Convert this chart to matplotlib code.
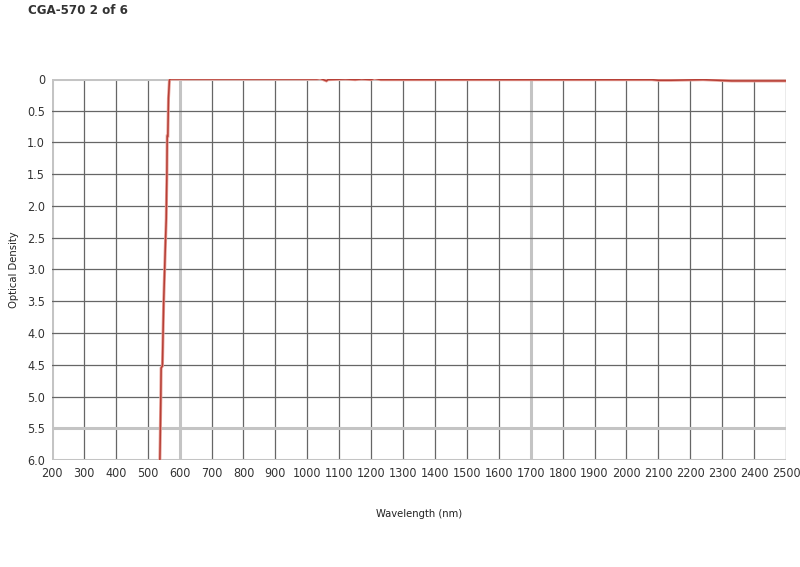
import numpy as np
import matplotlib as mpl
mpl.use('Agg')
import matplotlib.pyplot as plt

mpl.rcParams.update({'font.family': ['DejaVu Sans'],
                     'font.stretch': 'condensed',
                     'font.size': 8})

# Spectrum (wavelength in nm, optical density)
wavelength = [538, 539, 541, 542, 546, 548, 550, 553, 556, 558, 559, 560,
              561, 563, 565, 568, 570, 1030, 1040, 1045, 1060, 1065, 1120,
              1150, 1170, 1200, 1210, 1230, 2080, 2100, 2140, 2240, 2330, 2500]
optical_density = [6.0, 5.7, 5.0, 4.55, 4.52, 4.0, 3.5, 3.0, 2.5, 2.2, 1.8, 1.5,
                   0.9, 0.9, 0.3, 0.02, 0.0, 0.0, -0.01, 0.0, 0.03, 0.01, 0.0,
                   0.01, 0.0, 0.01, -0.01, 0.01, 0.01, 0.02, 0.02, 0.01, 0.03, 0.03]

xticks = list(range(200, 2600, 100))
yticks = [0, 0.5, 1.0, 1.5, 2.0, 2.5, 3.0, 3.5, 4.0, 4.5, 5.0, 5.5, 6.0]
ylabels = ['0', '0.5', '1.0', '1.5', '2.0', '2.5', '3.0', '3.5', '4.0', '4.5',
           '5.0', '5.5', '6.0']
light_x = [200, 600, 1700]
light_y = [0, 5.5, 6.0]

fig = plt.figure(figsize=(8, 5.67), dpi=100)
ax = fig.add_axes([0.065, 0.1887, 0.9175, 0.672])

# grid, a few lines drawn lighter as in the original
for xv in xticks:
    if xv in light_x:
        ax.axvline(xv, color='#c4c4c4', lw=2.2, zorder=1)
    else:
        ax.axvline(xv, color='#666666', lw=0.9, zorder=1)
for yv in yticks:
    if yv in light_y:
        ax.axhline(yv, color='#c4c4c4', lw=2.2, zorder=1)
    else:
        ax.axhline(yv, color='#666666', lw=0.9, zorder=1)

ax.plot(wavelength, optical_density, color='#e8a29a', lw=2.2, zorder=3,
        solid_joinstyle='miter')
ax.plot(wavelength, optical_density, color='#b63f36', lw=1.1, zorder=4,
        solid_joinstyle='miter')

ax.set_xlim(200, 2500)
ax.set_ylim(6.0, 0)
ax.set_xticks(xticks)
ax.set_yticks(yticks)
ax.set_yticklabels(ylabels)
ax.tick_params(length=0, labelsize=9, colors='#333333')
ax.tick_params(axis='x', pad=5)
ax.tick_params(axis='y', pad=5)
for s in ax.spines.values():
    s.set_visible(False)

ax.set_xlabel('Wavelength (nm)', fontsize=8, color='#222222', labelpad=21)
ax.set_ylabel('Optical Density', fontsize=8, color='#222222', labelpad=6)

fig.text(0.035, 0.993, 'CGA-570 2 of 6', fontsize=9.5, fontweight='bold',
         color='#333333', va='top', ha='left')

fig.savefig('out.png', dpi=100)
